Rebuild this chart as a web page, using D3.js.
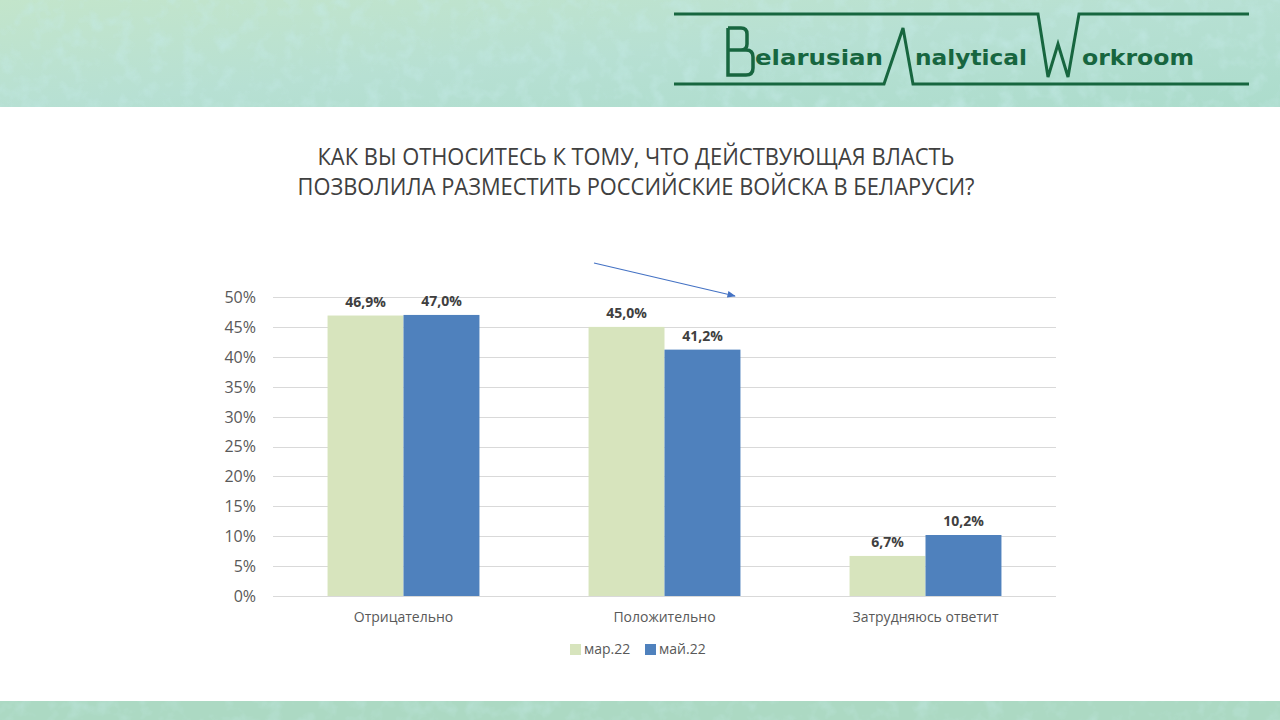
<!DOCTYPE html>
<html><head><meta charset="utf-8">
<script src="https://cdn.jsdelivr.net/npm/d3@7"></script>
<style>
html,body{margin:0;padding:0;background:#fff;}
svg{display:block;}
</style></head>
<body>
<svg id="chart" width="1280" height="720"></svg>
<script>
const categories = ["Отрицательно", "Положительно", "Затрудняюсь ответит"];
const seriesNames = ["мар.22", "май.22"];
const marValues = [46.9, 45.0, 6.7];
const mayValues = [47.0, 41.2, 10.2];
const valueLabels = [["46,9%", "45,0%", "6,7%"], ["47,0%", "41,2%", "10,2%"]];
const tickValues = [0, 5, 10, 15, 20, 25, 30, 35, 40, 45, 50];
const tickLabels = ["0%", "5%", "10%", "15%", "20%", "25%", "30%", "35%", "40%", "45%", "50%"];
const titleLines = ["КАК ВЫ ОТНОСИТЕСЬ К ТОМУ, ЧТО ДЕЙСТВУЮЩАЯ ВЛАСТЬ", "ПОЗВОЛИЛА РАЗМЕСТИТЬ РОССИЙСКИЕ ВОЙСКА В БЕЛАРУСИ?"];

const colors = ["#d7e4bd", "#4f81bd"];
const svg = d3.select("#chart");
const defs = svg.append("defs");

// header background
const g1 = defs.append("linearGradient").attr("id","hdr").attr("x1","0").attr("y1","0").attr("x2","1").attr("y2","1");
g1.append("stop").attr("offset","0").attr("stop-color","#c3e5cb");
g1.append("stop").attr("offset","0.5").attr("stop-color","#b7e0d3");
g1.append("stop").attr("offset","1").attr("stop-color","#acdccc");
const f = defs.append("filter").attr("id","noise").attr("x","0").attr("y","0").attr("width","100%").attr("height","100%");
f.append("feTurbulence").attr("type","fractalNoise").attr("baseFrequency","0.06").attr("numOctaves","3").attr("seed","4");
f.append("feColorMatrix").attr("type","matrix")
  .attr("values","0 0 0 0 0.55  0 0 0 0 0.82  0 0 0 0 0.8  0 0 0 1.6 -0.75");
svg.append("rect").attr("x",0).attr("y",0).attr("width",1280).attr("height",107).attr("fill","url(#hdr)");
svg.append("rect").attr("x",0).attr("y",0).attr("width",1280).attr("height",107).attr("filter","url(#noise)").attr("opacity",0.8);
svg.append("rect").attr("x",0).attr("y",701).attr("width",1280).attr("height",19).attr("fill","#acd9c3");
svg.append("rect").attr("x",0).attr("y",701).attr("width",1280).attr("height",19).attr("filter","url(#noise)").attr("opacity",0.6);

// logo
const logoColor = "#17663f";
const logo = svg.append("g");
logo.append("path").attr("fill","none").attr("stroke",logoColor).attr("stroke-width",3).attr("stroke-linejoin","miter")
  .attr("d","M674,14 H1038 L1048,77 L1058,44 L1068,77 L1079,14 H1249");
logo.append("path").attr("fill","none").attr("stroke",logoColor).attr("stroke-width",3)
  .attr("d","M674,84 H884 L903,28 L913,84 H1249");
logo.append("path").attr("fill","none").attr("stroke",logoColor).attr("stroke-width",3.5)
  .attr("d","M728,28 V75 H746 Q753,75 753,68 V57 Q753,50 746,50 H728 M728,28 H741 Q747,28 747,34 V44 Q747,50 741,50");
const logoText = [["elarusian",755,128],["nalytical",915,112],["orkroom",1082,112]];
logoText.forEach(t => {
  logo.append("text").attr("x",t[1]).attr("y",65).attr("font-family","DejaVu Sans").attr("font-weight","bold")
    .attr("font-size",21).attr("fill",logoColor).attr("textLength",t[2]).attr("lengthAdjust","spacingAndGlyphs").text(t[0]);
});

// title
const titleW = [637, 677];
titleLines.forEach((t,i) => {
  svg.append("text").attr("x",636).attr("y",165 + i*30).attr("text-anchor","middle")
    .attr("font-family","'Liberation Sans Narrow','Open Sans',sans-serif").attr("font-size",23).attr("fill","#404040")
    .attr("textLength",titleW[i]).attr("lengthAdjust","spacingAndGlyphs").text(t);
});

// scales
const x0 = d3.scaleBand().domain(categories).range([273,1056]).paddingInner(0.418).paddingOuter(0.209);
const x1 = d3.scaleBand().domain(seriesNames).range([0, x0.bandwidth()]);
const y = d3.scaleLinear().domain([0,50]).range([596,297]);

// grid
svg.append("g").selectAll("line").data(tickValues).join("line")
  .attr("x1",273).attr("x2",1056).attr("y1",d=>Math.round(y(d))+0.5).attr("y2",d=>Math.round(y(d))+0.5)
  .attr("stroke","#d9d9d9").attr("stroke-width",1);

// y axis labels via d3 axis
const yAxis = d3.axisLeft(y).tickValues(tickValues).tickFormat((d,i)=>tickLabels[i]).tickSize(0).tickPadding(0);
const ya = svg.append("g").attr("transform","translate(256,0)").call(yAxis);
ya.select(".domain").remove();
ya.selectAll("text").attr("font-family","'Open Sans',sans-serif").attr("font-size",16).attr("fill","#595959").attr("dy","0.34em");

// bars
const series = [marValues, mayValues];
series.forEach((vals, si) => {
  const g = svg.append("g");
  g.selectAll("rect").data(vals).join("rect")
    .attr("x",(d,i)=>x0(categories[i]) + x1(seriesNames[si]))
    .attr("y",d=>y(d)).attr("width",x1.bandwidth()).attr("height",d=>y(0)-y(d))
    .attr("fill",colors[si]);
  g.selectAll("text").data(vals).join("text")
    .attr("x",(d,i)=>x0(categories[i]) + x1(seriesNames[si]) + x1.bandwidth()/2)
    .attr("y",d=>y(d)-9).attr("text-anchor","middle")
    .attr("font-family","'Open Sans',sans-serif").attr("font-weight","bold").attr("font-size",14).attr("fill","#404040")
    .text((d,i)=>valueLabels[si][i]);
});

// x axis
const xAxis = d3.axisBottom(x0).tickSize(0).tickPadding(0);
const xa = svg.append("g").attr("transform","translate(0,596)").call(xAxis);
xa.select(".domain").remove();
xa.selectAll("text").attr("font-family","'Open Sans',sans-serif").attr("font-size",14).attr("fill","#595959").attr("dy","0").attr("y",26);

// legend
const lg = svg.append("g");
const legX = [570, 645];
seriesNames.forEach((s,i)=>{
  lg.append("rect").attr("x",legX[i]).attr("y",644).attr("width",11).attr("height",11).attr("fill",colors[i]);
  lg.append("text").attr("x",legX[i]+14).attr("y",654).attr("font-family","'Open Sans',sans-serif").attr("font-size",14).attr("fill","#595959").text(s);
});

// arrow
defs.append("marker").attr("id","arr").attr("viewBox","0 0 10 10").attr("refX",9).attr("refY",5)
  .attr("markerWidth",7).attr("markerHeight",7).attr("orient","auto")
  .append("path").attr("d","M0,1 L10,5 L0,9 Z").attr("fill","#4472c4");
svg.append("line").attr("x1",594).attr("y1",263).attr("x2",735).attr("y2",296)
  .attr("stroke","#4472c4").attr("stroke-width",1.2).attr("marker-end","url(#arr)");
</script>
</body></html>
